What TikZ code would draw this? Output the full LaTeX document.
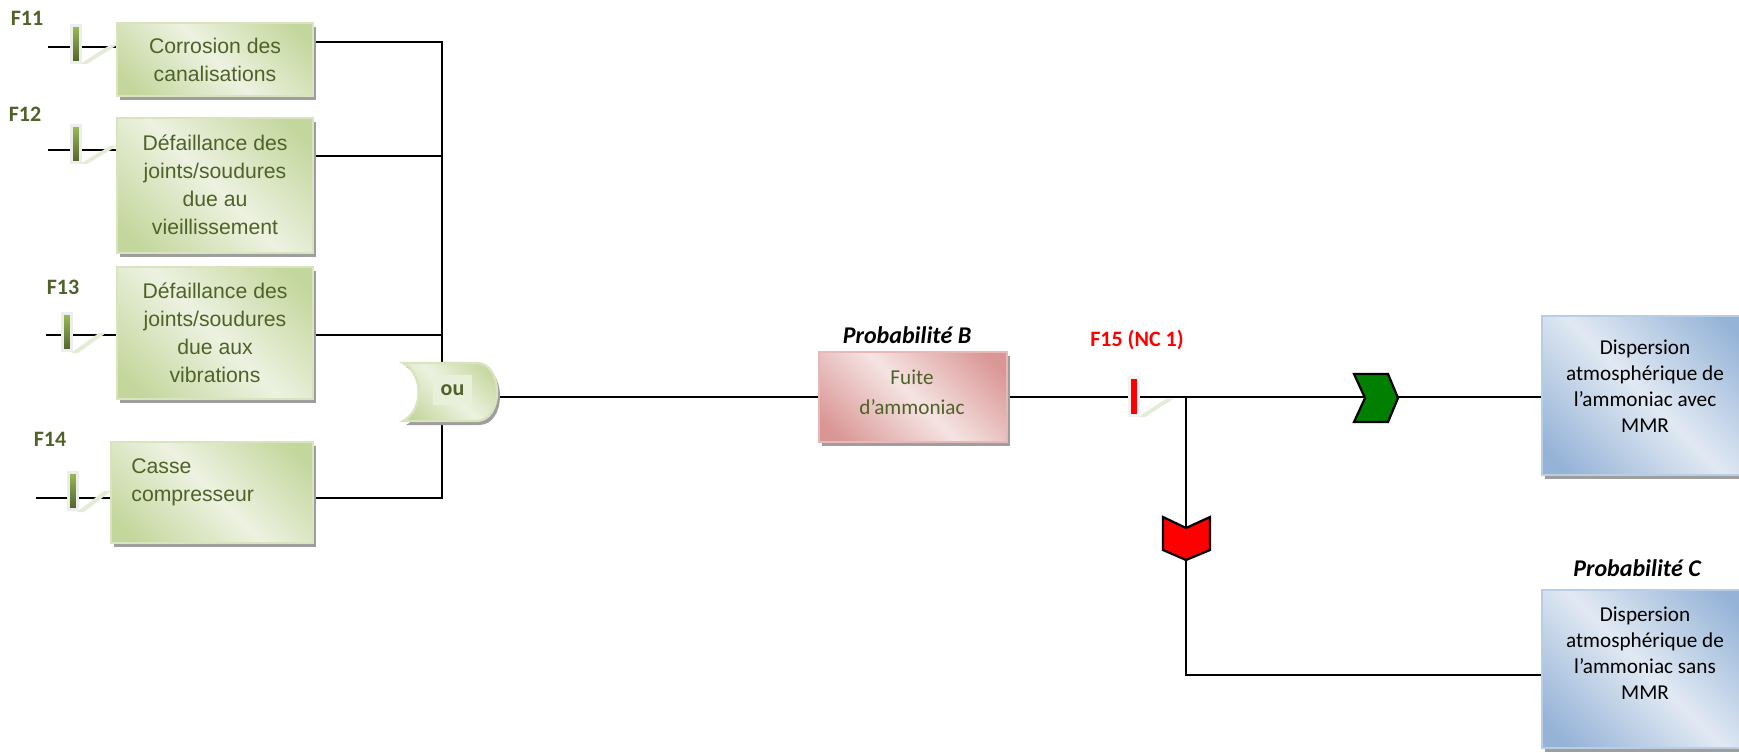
\documentclass[tikz,border=0pt]{standalone}
\usepackage{fontspec}
\setmainfont{Carlito}
\newfontfamily\arialfont{Liberation Sans}
\usetikzlibrary{shadows,calc}
\definecolor{olive}{HTML}{4F6228}
\definecolor{gD}{HTML}{C3D69B}
\definecolor{gL}{HTML}{EDF2E1}
\definecolor{gB}{HTML}{D7E4BD}
\definecolor{pD}{HTML}{D99694}
\definecolor{pL}{HTML}{F5E4E3}
\definecolor{pB}{HTML}{E6B9B8}
\definecolor{bD}{HTML}{95B3D7}
\definecolor{bL}{HTML}{E1E9F3}
\definecolor{bB}{HTML}{B9CDE5}
\definecolor{barT}{HTML}{9BBB59}
\definecolor{barB}{HTML}{4F6228}
\definecolor{chevG}{HTML}{007F00}
\definecolor{band}{HTML}{E4ECD6}
\definecolor{ouL}{HTML}{E8EFDA}
\pgfdeclarehorizontalshading{gsh}{100bp}{color(0bp)=(gD); color(20bp)=(gD); color(50bp)=(gL); color(80bp)=(gD); color(100bp)=(gD)}
\pgfdeclarehorizontalshading{psh}{100bp}{color(0bp)=(pD); color(20bp)=(pD); color(50bp)=(pL); color(80bp)=(pD); color(100bp)=(pD)}
\pgfdeclarehorizontalshading{bsh}{100bp}{color(0bp)=(bD); color(20bp)=(bD); color(50bp)=(bL); color(80bp)=(bD); color(100bp)=(bD)}
\pgfdeclarelayer{back}
\pgfdeclarelayer{lines}
\pgfsetlayers{back,lines,main}
\begin{document}
\begin{tikzpicture}[x=0.5pt,y=-0.5pt,
  box/.style={rectangle, line width=1.2pt, inner sep=0pt, align=center,
    drop shadow={shadow xshift=1.6pt, shadow yshift=-2pt, fill=black!38, opacity=1}},
  gbox/.style={box, draw=gB, shade, shading=gsh, shading angle=45},
  pbox/.style={box, draw=pB, shade, shading=psh, shading angle=45},
  bbox/.style={box, draw=bB, shade, shading=bsh, shading angle=45},
  gtext/.style={font=\arialfont\fontsize{10.6}{14}\selectfont, text=olive, inner sep=0pt},
  btext/.style={font=\fontsize{10.6}{13}\selectfont, align=center, inner sep=0pt},
  ptext/.style={font=\fontsize{10.6}{15}\selectfont, align=center, text=olive, inner sep=0pt},
  flabel/.style={font=\bfseries\fontsize{11}{13}\selectfont, text=olive},
  prob/.style={font=\bfseries\itshape\fontsize{12}{14}\selectfont},
  conn/.style={line width=1pt, black},
  gbar/.style={rectangle, inner sep=0pt, minimum width=4.5pt, minimum height=18.5pt, draw=black!7, line width=1.5pt, top color=barT, bottom color=barB},
  rbar/.style={rectangle, inner sep=0pt, minimum width=4.5pt, minimum height=18.5pt, draw=black!5, line width=1.5pt, fill=red},
  bandf/.style={fill=band},
  chev/.style={draw=black, line width=1.1pt, line join=miter}]
\useasboundingbox (0,0) rectangle (1739,753);
\begin{pgfonlayer}{back}
\fill[white] (0,0) rectangle (1739,753);
\end{pgfonlayer}

% left boxes
\node[gbox, minimum width=98pt, minimum height=36.5pt] (b1) at (215,59.5) {};
\node[gtext, align=center] (t1) at (215,60) {Corrosion des\\canalisations};
\node[gbox, minimum width=98pt, minimum height=67.5pt] (b2) at (215,185.5) {};
\node[gtext, align=center] (t2) at (215,184.5) {Défaillance des\\joints/soudures\\due au\\vieillissement};
\node[gbox, minimum width=98pt, minimum height=66pt] (b3) at (215,333) {};
\node[gtext, align=center] (t3) at (215,333) {Défaillance des\\joints/soudures\\due aux\\vibrations};
\node[gbox, minimum width=101pt, minimum height=50.5pt] (b4) at (212,492.5) {};
\node[gtext, align=left, anchor=north west] (t4) at (131,458) {Casse\\compresseur};

% labels
\node[flabel] (f11) at (27,18) {F11};
\node[flabel] (f12) at (25,114) {F12};
\node[flabel] (f13) at (63,287) {F13};
\node[flabel] (f14) at (50,439) {F14};

% bands
\fill[bandf] (80,64) -- (87,64) -- (117,45) -- (110,45) -- cycle;
\fill[bandf] (80,164) -- (87,164) -- (117,146) -- (110,146) -- cycle;
\fill[bandf] (71,353) -- (78,353) -- (106,333) -- (99,333) -- cycle;
\fill[bandf] (77,512) -- (84,512) -- (111,491) -- (104,491) -- cycle;
\fill[bandf] (1138,417) -- (1145,417) -- (1173,399) -- (1166,399) -- cycle;

% barriers
\node[gbar] (k1) at (76,44.5) {};
\node[gbar] (k2) at (76,144.5) {};
\node[gbar] (k3) at (66.5,332.5) {};
\node[gbar] (k4) at (72.5,491) {};

% gate
\fill[black!38, shift={(3,4)}] (403,363) -- (476,363) .. controls (490,363) and (497,377) .. (497,392) .. controls (497,407) and (490,421) .. (476,421) -- (403,421) .. controls (424,410) and (424,374) .. (403,363) -- cycle;
\path[draw=gB, line width=1.2pt, shade, shading=gsh, shading angle=45] (403,363) -- (476,363) .. controls (490,363) and (497,377) .. (497,392) .. controls (497,407) and (490,421) .. (476,421) -- (403,421) .. controls (424,410) and (424,374) .. (403,363) -- cycle;
\node[fill=ouL, minimum width=19.5pt, minimum height=15pt, inner sep=0pt, text=olive, font=\bfseries\fontsize{11}{12}\selectfont] (ou) at (452.5,390) {ou};
\coordinate (gout) at (497,397);

% central box
\node[prob] (pb) at (907,335) {Probabilité B};
\node[pbox, minimum width=94pt, minimum height=45pt] (fuite) at (913,397) {};
\node[ptext] (t0) at (912,392) {Fuite\\d’ammoniac};

\node[font=\bfseries\fontsize{11}{13}\selectfont, text=red] (f15) at (1137,340) {F15 (NC 1)};
\node[rbar] (k5) at (1133.5,396.5) {};

% right boxes
\node[bbox, minimum width=103pt, minimum height=79.5pt] (b5) at (1645,395.5) {};
\node[btext] (t5) at (1645,386) {Dispersion\\atmosphérique de\\l’ammoniac avec\\MMR};
\node[prob] (pc) at (1637,568) {Probabilité C};
\node[bbox, minimum width=103pt, minimum height=79pt] (b6) at (1645,669) {};
\node[btext] (t6) at (1645,653) {Dispersion\\atmosphérique de\\l’ammoniac sans\\MMR};

% chevrons
\filldraw[chev, fill=red] (1163,517) -- (1186,528) -- (1210,517) -- (1210,550) -- (1186,560) -- (1163,550) -- cycle;
\filldraw[chev, fill=chevG] (1354,374) -- (1388,374) -- (1398,398) -- (1388,422) -- (1354,422) -- (1365,398) -- cycle;

% coordinates
\coordinate (s1) at (48,47);
\coordinate (s2) at (48,150);
\coordinate (s3) at (46,335);
\coordinate (s4) at (36,498);
\coordinate (j1) at (442,42);
\coordinate (j2) at (442,156);
\coordinate (j3) at (442,335);
\coordinate (j4) at (442,498);
\coordinate (jn) at (1186,397);
\coordinate (jd) at (1186,675);

\begin{pgfonlayer}{lines}
\draw[conn] (s1) -- (b1.west |- s1);
\draw[conn] (s2) -- (b2.west |- s2);
\draw[conn] (s3) -- (b3.west |- s3);
\draw[conn] (s4) -- (b4.west |- s4);
\draw[conn] (b1.east |- j1) -- (j1) -- (j4) -- (b4.east |- j4);
\draw[conn] (b2.east |- j2) -- (j2);
\draw[conn] (b3.east |- j3) -- (j3);
\draw[conn] (gout) -- (fuite.west |- gout);
\draw[conn] (fuite.east |- jn) -- (jn) -- (b5.west |- jn);
\draw[conn] (jn) -- (jd) -- (b6.west |- jd);
\end{pgfonlayer}
\end{tikzpicture}
\end{document}
